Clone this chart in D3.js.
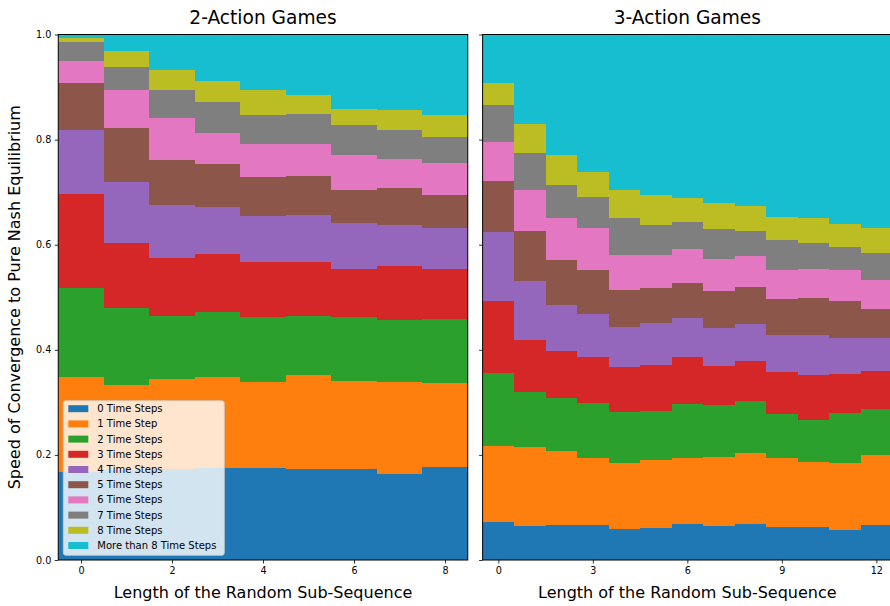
<!DOCTYPE html>
<html>
<head>
<meta charset="utf-8">
<script src="https://cdn.jsdelivr.net/npm/d3@7"></script>
<style>
  body { margin: 0; background: #fff; }
  svg text { font-family: "DejaVu Sans", sans-serif; fill: #000; }
</style>
</head>
<body>
<svg id="chart" width="890" height="606"></svg>
<script>
// Convergence categories (stack order, bottom to top) and their colours
const categories = [
  "0 Time Steps", "1 Time Step", "2 Time Steps", "3 Time Steps", "4 Time Steps",
  "5 Time Steps", "6 Time Steps", "7 Time Steps", "8 Time Steps", "More than 8 Time Steps"
];
const colors = ["#1f77b4", "#ff7f0e", "#2ca02c", "#d62728", "#9467bd",
                "#8c564b", "#e377c2", "#7f7f7f", "#bcbd22", "#17becf"];

// Sub-sequence lengths on each panel
const lengths2 = [0, 1, 2, 3, 4, 5, 6, 7, 8];
const lengths3 = [0, 1, 2, 3, 4, 5, 6, 7, 8, 9, 10, 11, 12];
const xTicks2 = [0, 2, 4, 6, 8];
const xTicks3 = [0, 3, 6, 9, 12];
const yTicks = [0, 0.2, 0.4, 0.6, 0.8, 1.0];

// 2-action games: share of runs per convergence time, one array per category
const two0 = [0.168, 0.172, 0.174, 0.176, 0.176, 0.174, 0.174, 0.164, 0.177];
const two1 = [0.181, 0.161, 0.171, 0.173, 0.163, 0.178, 0.167, 0.175, 0.160];
const two2 = [0.169, 0.147, 0.120, 0.122, 0.124, 0.113, 0.122, 0.118, 0.122];
const two3 = [0.179, 0.124, 0.110, 0.112, 0.105, 0.103, 0.091, 0.103, 0.095];
const two4 = [0.122, 0.116, 0.101, 0.088, 0.087, 0.089, 0.088, 0.078, 0.078];
const two5 = [0.088, 0.103, 0.086, 0.083, 0.073, 0.074, 0.063, 0.069, 0.063];
const two6 = [0.042, 0.072, 0.080, 0.059, 0.064, 0.060, 0.065, 0.057, 0.061];
const two7 = [0.036, 0.044, 0.053, 0.059, 0.054, 0.057, 0.057, 0.055, 0.048];
const two8 = [0.009, 0.029, 0.038, 0.040, 0.049, 0.036, 0.032, 0.038, 0.042];
const twoMore = [0.006, 0.032, 0.067, 0.088, 0.105, 0.116, 0.141, 0.143, 0.154];

// 3-action games
const three0 = [0.072, 0.065, 0.067, 0.067, 0.059, 0.061, 0.069, 0.065, 0.069, 0.063, 0.063, 0.057, 0.067];
const three1 = [0.145, 0.150, 0.141, 0.127, 0.126, 0.130, 0.125, 0.131, 0.135, 0.131, 0.124, 0.128, 0.133];
const three2 = [0.139, 0.105, 0.101, 0.105, 0.097, 0.093, 0.103, 0.099, 0.099, 0.084, 0.080, 0.095, 0.088];
const three3 = [0.137, 0.099, 0.089, 0.088, 0.086, 0.087, 0.090, 0.075, 0.076, 0.080, 0.085, 0.074, 0.072];
const three4 = [0.132, 0.111, 0.088, 0.082, 0.076, 0.080, 0.074, 0.072, 0.071, 0.071, 0.077, 0.069, 0.063];
const three5 = [0.097, 0.097, 0.084, 0.082, 0.070, 0.067, 0.067, 0.069, 0.070, 0.068, 0.070, 0.070, 0.055];
const three6 = [0.074, 0.078, 0.080, 0.080, 0.067, 0.063, 0.064, 0.062, 0.059, 0.054, 0.055, 0.058, 0.055];
const three7 = [0.069, 0.070, 0.064, 0.059, 0.069, 0.057, 0.052, 0.056, 0.048, 0.057, 0.050, 0.045, 0.052];
const three8 = [0.042, 0.054, 0.056, 0.049, 0.055, 0.057, 0.044, 0.051, 0.047, 0.045, 0.047, 0.044, 0.047];
const threeMore = [0.093, 0.171, 0.230, 0.261, 0.295, 0.305, 0.312, 0.320, 0.326, 0.347, 0.349, 0.360, 0.368];

const twoSeries = [two0, two1, two2, two3, two4, two5, two6, two7, two8, twoMore];
const threeSeries = [three0, three1, three2, three3, three4, three5, three6, three7, three8, threeMore];

const svg = d3.select("#chart");
const yTop = 34.5, yBottom = 560;
const y = d3.scaleLinear().domain([0, 1]).range([yBottom, yTop]);

function panel(opts) {
  const { lengths, series, x0, x1, xTicks, title, showYLabels } = opts;
  const x = d3.scaleLinear()
    .domain([lengths[0] - 0.5, lengths[lengths.length - 1] + 0.5])
    .range([x0, x1]);

  const rows = lengths.map((len, i) => {
    const r = { len };
    series.forEach((s, k) => { r[categories[k]] = s[i]; });
    return r;
  });
  const stacked = d3.stack().keys(categories)(rows);

  const clipId = "clip" + Math.round(x0);
  svg.append("clipPath").attr("id", clipId)
    .append("rect").attr("x", x0).attr("y", yTop).attr("width", x1 - x0).attr("height", yBottom - yTop);

  // mid-step areas: each length covers [len - 0.5, len + 0.5]
  const area = d3.area()
    .x(p => x(p.x))
    .y0(p => y(p.y0))
    .y1(p => y(p.y1));

  const g = svg.append("g").attr("clip-path", `url(#${clipId})`);
  stacked.forEach((layer, k) => {
    const pts = layer.flatMap(d => [
      { x: d.data.len - 0.5, y0: d[0], y1: d[1] },
      { x: d.data.len + 0.5, y0: d[0], y1: d[1] }
    ]);
    g.append("path")
      .attr("d", area(pts))
      .attr("fill", colors[k])
      .attr("shape-rendering", "crispEdges");
  });

  // axes
  const yAxis = d3.axisLeft(y).tickValues(yTicks).tickSize(3.5).tickPadding(3.5)
    .tickFormat(showYLabels ? d3.format(".1f") : () => "");
  const gy = svg.append("g").attr("transform", `translate(${x0},0)`).call(yAxis);
  const xAxis = d3.axisBottom(x).tickValues(xTicks).tickSize(3.5).tickPadding(3.5);
  const gx = svg.append("g").attr("transform", `translate(0,${yBottom})`).call(xAxis);
  [gx, gy].forEach(a => {
    a.select(".domain").remove();
    a.selectAll(".tick line").attr("stroke", "#000").attr("stroke-width", 0.8);
    a.selectAll(".tick text").style("font-size", "9.6px").attr("fill", "#000");
  });

  // frame
  svg.append("rect")
    .attr("x", x0).attr("y", yTop)
    .attr("width", x1 - x0).attr("height", yBottom - yTop)
    .attr("fill", "none").attr("stroke", "#000").attr("stroke-width", 1);

  svg.append("text")
    .attr("x", (x0 + x1) / 2).attr("y", 23.5)
    .attr("text-anchor", "middle")
    .style("font-size", "18.6px")
    .text(title);

  svg.append("text")
    .attr("x", (x0 + x1) / 2).attr("y", 598)
    .attr("text-anchor", "middle")
    .style("font-size", "16px")
    .text("Length of the Random Sub-Sequence");
}

panel({ lengths: lengths2, series: twoSeries, x0: 58.25, x1: 467.75,
        xTicks: xTicks2, title: "2-Action Games", showYLabels: true });
panel({ lengths: lengths3, series: threeSeries, x0: 482.6, x1: 892.1,
        xTicks: xTicks3, title: "3-Action Games", showYLabels: false });

// shared y label
svg.append("text")
  .attr("transform", `translate(20,${(yTop + yBottom) / 2}) rotate(-90)`)
  .attr("text-anchor", "middle")
  .style("font-size", "16px")
  .text("Speed of Convergence to Pure Nash Equilibrium");

// legend
const lg = svg.append("g").attr("transform", "translate(63.3,400.7)");
lg.append("rect")
  .attr("width", 161).attr("height", 154.6).attr("rx", 2.5)
  .attr("fill", "#fff").attr("fill-opacity", 0.8)
  .attr("stroke", "#ccc").attr("stroke-opacity", 0.8).attr("stroke-width", 1);
categories.forEach((c, i) => {
  const cy = 8 + i * 15.2;
  lg.append("rect").attr("x", 5).attr("y", cy - 3.5).attr("width", 20).attr("height", 7)
    .attr("fill", colors[i]);
  lg.append("text").attr("x", 34).attr("y", cy).attr("dy", "0.35em")
    .style("font-size", "10px").text(c);
});
</script>
</body>
</html>
